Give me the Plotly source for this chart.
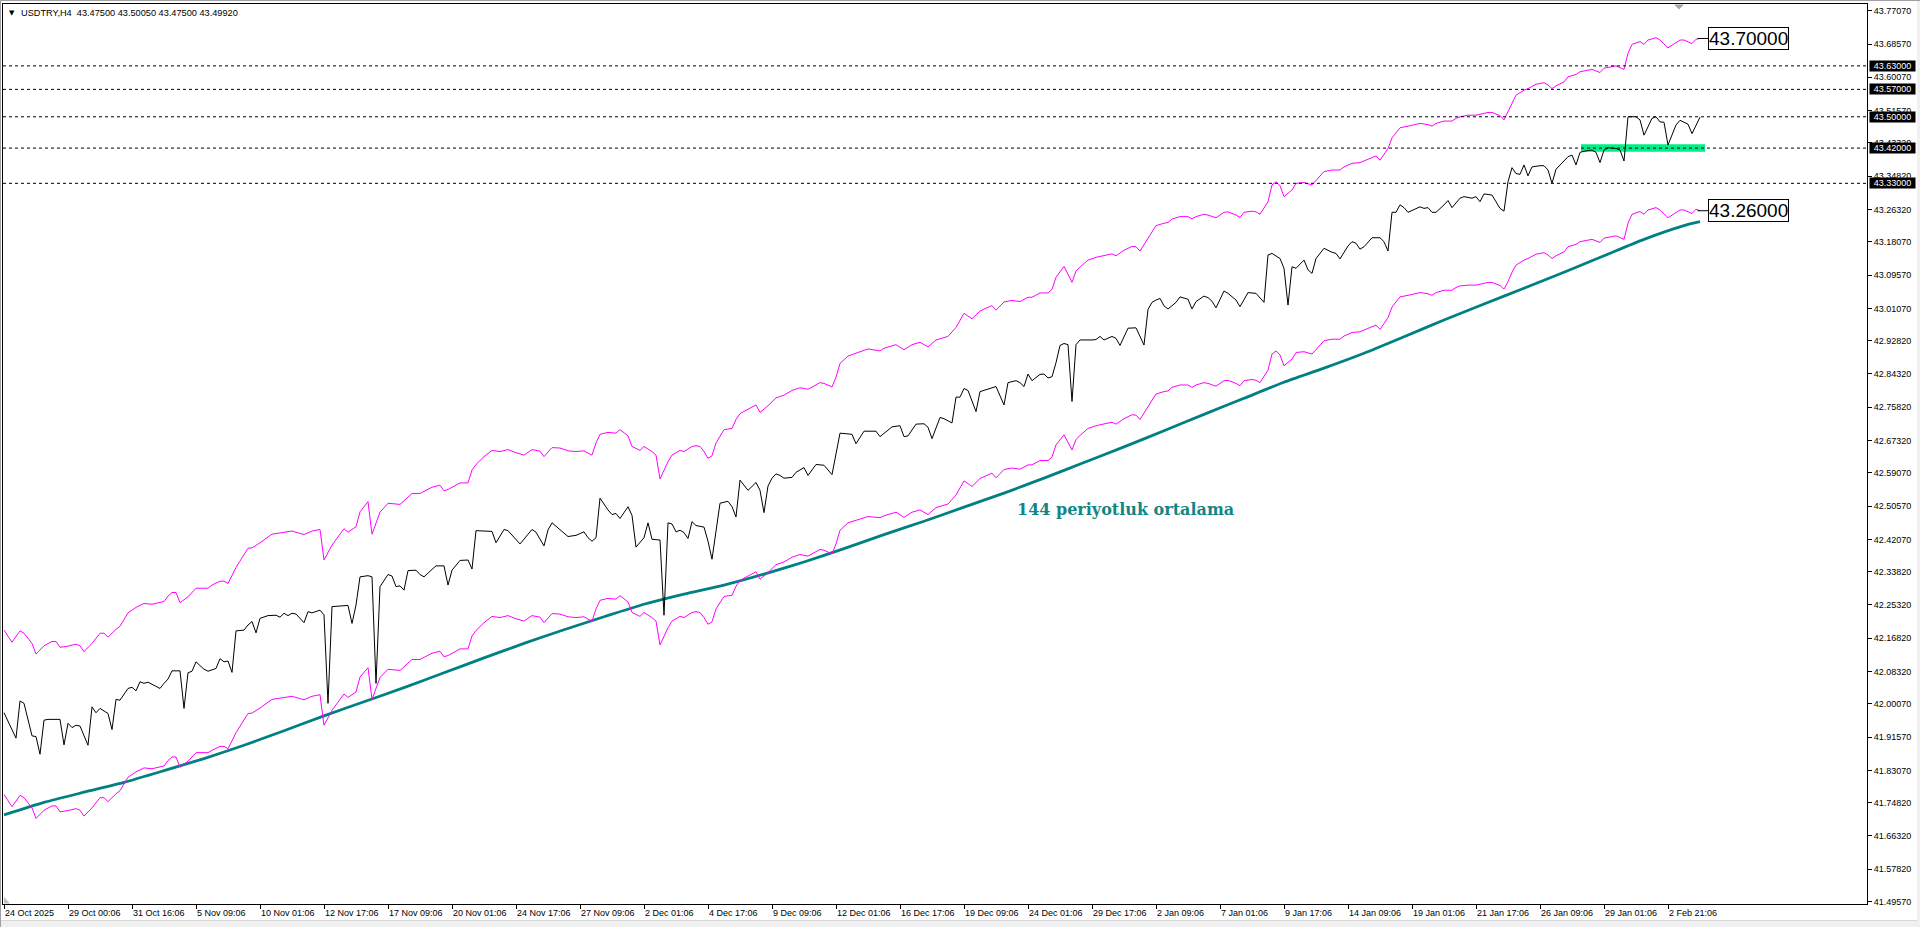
import plotly.graph_objects as go

# ---------------- data ----------------
close_bar = [
    0, 3, 4, 5, 7, 8, 9, 10, 11, 14,
    15, 16, 17, 18, 19, 20, 21, 22, 23, 24,
    26, 27, 28, 29, 31, 32, 33, 34, 35, 36,
    39, 40, 41, 42, 44, 45, 46, 47, 48, 50,
    51, 53, 54, 55, 56, 57, 58, 60, 61, 62,
    63, 64, 66, 68, 69, 70, 71, 72, 73, 75,
    76, 77, 79, 80, 81, 82, 84, 86, 87, 88,
    89, 91, 92, 93, 94, 96, 97, 98, 99, 100,
    101, 103, 104, 105, 107, 108, 110, 111, 112, 114,
    116, 117, 118, 122, 123, 125, 126, 129, 132, 133,
    135, 136, 137, 139, 140, 141, 143, 145, 146, 147,
    148, 149, 151, 152, 153, 154, 156, 157, 158, 160,
    161, 162, 164, 165, 166, 167, 168, 169, 170, 171,
    172, 173, 175, 176, 177, 179, 181, 182, 183, 184,
    186, 187, 188, 189, 190, 191, 192, 193, 194, 195,
    197, 198, 200, 201, 203, 205, 207, 209, 212, 213,
    215, 218, 219, 222, 224, 225, 226, 228, 230, 231,
    232, 234, 235, 237, 238, 239, 240, 241, 243, 244,
    246, 248, 250, 251, 253, 254, 255, 256, 257, 259,
    260, 261, 262, 263, 264, 265, 266, 267, 268, 269,
    272, 273, 274, 275, 277, 278, 279, 281, 283, 285,
    286, 287, 288, 289, 290, 291, 293, 294, 296, 297,
    298, 300, 301, 302, 303, 305, 306, 308, 309, 311,
    313, 315, 316, 317, 319, 320, 321, 322, 323, 325,
    326, 327, 328, 330, 332, 333, 334, 336, 337, 338,
    339, 340, 342, 344, 345, 346, 347, 348, 349, 350,
    351, 354, 355, 356, 357, 358, 360, 361, 362, 364,
    365, 367, 368, 369, 370, 372, 373, 374, 375, 376,
    377, 378, 379, 380, 381, 382, 384, 385, 386, 387,
    388, 389, 391, 392, 393, 394, 395, 397, 398, 399,
    400, 401, 403, 404, 405, 406, 408, 409, 410, 412,
    413, 414, 415, 416, 418, 419, 421, 422, 423, 424,
]
close_price = [
    41.978, 41.913, 42.008, 42.002, 41.919, 41.917, 41.872, 41.959, 41.961, 41.961,
    41.896, 41.951, 41.940, 41.946, 41.944, 41.921, 41.895, 41.993, 41.978, 41.989,
    41.976, 41.935, 42.012, 42.010, 42.040, 42.043, 42.034, 42.057, 42.053, 42.056,
    42.040, 42.053, 42.064, 42.085, 42.085, 41.989, 42.080, 42.084, 42.108, 42.089,
    42.084, 42.091, 42.116, 42.108, 42.110, 42.081, 42.187, 42.189, 42.202, 42.211,
    42.182, 42.219, 42.226, 42.227, 42.222, 42.232, 42.226, 42.232, 42.230, 42.208,
    42.236, 42.233, 42.240, 42.228, 42.002, 42.249, 42.250, 42.252, 42.206, 42.253,
    42.325, 42.328, 42.325, 42.053, 42.300, 42.331, 42.327, 42.300, 42.302, 42.291,
    42.341, 42.342, 42.331, 42.325, 42.344, 42.353, 42.353, 42.304, 42.342, 42.367,
    42.368, 42.345, 42.443, 42.441, 42.412, 42.446, 42.443, 42.409, 42.446, 42.439,
    42.404, 42.445, 42.463, 42.445, 42.437, 42.428, 42.431, 42.440, 42.425, 42.416,
    42.425, 42.526, 42.496, 42.484, 42.487, 42.474, 42.504, 42.482, 42.401, 42.425,
    42.463, 42.421, 42.419, 42.227, 42.463, 42.460, 42.440, 42.444, 42.438, 42.423,
    42.466, 42.456, 42.452, 42.416, 42.370, 42.513, 42.518, 42.504, 42.478, 42.572,
    42.546, 42.557, 42.566, 42.546, 42.489, 42.557, 42.577, 42.588, 42.584, 42.577,
    42.579, 42.592, 42.604, 42.584, 42.612, 42.610, 42.586, 42.692, 42.689, 42.665,
    42.697, 42.697, 42.683, 42.708, 42.711, 42.683, 42.685, 42.715, 42.716, 42.707,
    42.678, 42.732, 42.729, 42.718, 42.784, 42.784, 42.806, 42.801, 42.747, 42.798,
    42.804, 42.811, 42.764, 42.821, 42.826, 42.821, 42.811, 42.843, 42.826, 42.842,
    42.843, 42.833, 42.836, 42.872, 42.916, 42.921, 42.918, 42.773, 42.918, 42.930,
    42.930, 42.931, 42.939, 42.930, 42.939, 42.934, 42.916, 42.960, 42.961, 42.917,
    43.008, 43.026, 43.032, 43.036, 43.017, 43.009, 43.026, 43.040, 43.034, 43.009,
    43.028, 43.042, 43.038, 43.029, 43.012, 43.055, 43.049, 43.032, 43.015, 43.051,
    43.049, 43.026, 43.147, 43.151, 43.138, 43.113, 43.019, 43.117, 43.113, 43.134,
    43.109, 43.100, 43.138, 43.164, 43.154, 43.151, 43.137, 43.170, 43.181, 43.177,
    43.162, 43.168, 43.191, 43.191, 43.181, 43.157, 43.256, 43.256, 43.275, 43.268,
    43.256, 43.270, 43.266, 43.268, 43.256, 43.256, 43.275, 43.286, 43.268, 43.292,
    43.296, 43.292, 43.296, 43.283, 43.303, 43.300, 43.283, 43.266, 43.259, 43.334,
    43.370, 43.355, 43.353, 43.377, 43.349, 43.372, 43.375, 43.375, 43.364, 43.330,
    43.366, 43.377, 43.398, 43.402, 43.377, 43.409, 43.412, 43.415, 43.409, 43.383,
    43.415, 43.421, 43.419, 43.415, 43.387, 43.500, 43.500, 43.492, 43.453, 43.496,
    43.500, 43.487, 43.486, 43.428, 43.479, 43.491, 43.481, 43.457, 43.479, 43.499,
]

env_bar = [
    0, 2, 4, 5, 7, 8, 10, 12, 13, 14,
    16, 18, 19, 20, 22, 24, 25, 26, 28, 29,
    31, 33, 35, 37, 40, 41, 42, 43, 44, 46,
    48, 51, 52, 54, 55, 56, 58, 60, 61, 62,
    64, 67, 70, 72, 75, 77, 79, 80, 82, 84,
    85, 86, 88, 89, 91, 92, 94, 96, 99, 102,
    104, 107, 109, 110, 111, 114, 116, 117, 118, 120,
    122, 124, 126, 128, 130, 132, 134, 135, 137, 139,
    141, 143, 145, 146, 147, 148, 149, 151, 153, 154,
    156, 157, 159, 160, 162, 163, 164, 166, 167, 169,
    170, 172, 173, 174, 175, 176, 177, 178, 180, 182,
    183, 184, 186, 188, 189, 191, 193, 195, 197, 199,
    201, 202, 204, 205, 207, 208, 209, 211, 213, 216,
    219, 220, 223, 225, 227, 229, 231, 233, 235, 236,
    238, 240, 242, 244, 247, 248, 250, 252, 254, 256,
    257, 259, 261, 262, 263, 265, 267, 268, 269, 271,
    273, 275, 277, 278, 280, 282, 283, 284, 286, 288,
    290, 291, 292, 294, 296, 297, 298, 300, 301, 303,
    305, 306, 308, 309, 310, 312, 313, 314, 316, 317,
    318, 319, 320, 322, 323, 325, 327, 328, 330, 332,
    334, 335, 337, 339, 341, 343, 344, 346, 347, 349,
    351, 354, 356, 357, 358, 360, 362, 363, 364, 366,
    368, 370, 371, 372, 374, 375, 376, 377, 378, 380,
    381, 383, 385, 386, 387, 388, 390, 391, 393, 394,
    396, 397, 399, 400, 402, 403, 405, 406, 407, 409,
    410, 411, 413, 414, 416, 417, 419, 420, 422, 423,
    424,
]
env_upper = [
    42.189, 42.158, 42.187, 42.181, 42.155, 42.128, 42.149, 42.160, 42.160, 42.145,
    42.148, 42.153, 42.149, 42.134, 42.155, 42.181, 42.181, 42.171, 42.191, 42.199,
    42.233, 42.247, 42.257, 42.255, 42.262, 42.276, 42.285, 42.285, 42.259, 42.274,
    42.296, 42.296, 42.304, 42.314, 42.314, 42.308, 42.349, 42.380, 42.398, 42.399,
    42.412, 42.434, 42.438, 42.442, 42.433, 42.442, 42.446, 42.368, 42.406, 42.436,
    42.448, 42.439, 42.453, 42.491, 42.517, 42.434, 42.490, 42.513, 42.510, 42.538,
    42.538, 42.554, 42.559, 42.545, 42.548, 42.565, 42.565, 42.598, 42.612, 42.632,
    42.648, 42.645, 42.650, 42.642, 42.636, 42.650, 42.646, 42.632, 42.655, 42.654,
    42.647, 42.645, 42.647, 42.641, 42.636, 42.667, 42.689, 42.694, 42.692, 42.701,
    42.685, 42.658, 42.648, 42.658, 42.645, 42.636, 42.575, 42.619, 42.636, 42.648,
    42.645, 42.658, 42.660, 42.658, 42.645, 42.628, 42.634, 42.667, 42.701, 42.704,
    42.727, 42.742, 42.754, 42.764, 42.745, 42.762, 42.782, 42.789, 42.801, 42.808,
    42.804, 42.810, 42.821, 42.819, 42.810, 42.835, 42.870, 42.889, 42.896, 42.907,
    42.902, 42.909, 42.918, 42.905, 42.918, 42.924, 42.912, 42.930, 42.936, 42.939,
    42.962, 42.998, 42.984, 43.004, 43.018, 43.006, 43.027, 43.031, 43.028, 43.039,
    43.039, 43.050, 43.050, 43.059, 43.090, 43.118, 43.077, 43.106, 43.116, 43.134,
    43.141, 43.145, 43.150, 43.145, 43.159, 43.169, 43.168, 43.157, 43.189, 43.222,
    43.228, 43.230, 43.239, 43.245, 43.245, 43.239, 43.245, 43.251, 43.249, 43.242,
    43.256, 43.257, 43.249, 43.243, 43.256, 43.259, 43.257, 43.251, 43.283, 43.326,
    43.334, 43.324, 43.296, 43.313, 43.330, 43.332, 43.326, 43.338, 43.360, 43.364,
    43.364, 43.372, 43.381, 43.383, 43.392, 43.400, 43.389, 43.419, 43.446, 43.472,
    43.476, 43.483, 43.480, 43.476, 43.483, 43.489, 43.489, 43.496, 43.500, 43.504,
    43.504, 43.508, 43.511, 43.511, 43.503, 43.492, 43.513, 43.537, 43.555, 43.568,
    43.572, 43.583, 43.587, 43.581, 43.572, 43.579, 43.589, 43.602, 43.608, 43.615,
    43.619, 43.621, 43.613, 43.624, 43.628, 43.630, 43.621, 43.662, 43.685, 43.692,
    43.685, 43.696, 43.702, 43.696, 43.676, 43.683, 43.696, 43.696, 43.687, 43.698,
    43.700,
]
env_lower = [
    41.769, 41.738, 41.767, 41.761, 41.735, 41.708, 41.729, 41.740, 41.740, 41.725,
    41.728, 41.733, 41.729, 41.714, 41.735, 41.761, 41.761, 41.751, 41.771, 41.779,
    41.813, 41.827, 41.837, 41.835, 41.842, 41.856, 41.865, 41.865, 41.839, 41.854,
    41.876, 41.876, 41.882, 41.892, 41.892, 41.886, 41.927, 41.958, 41.976, 41.977,
    41.990, 42.012, 42.016, 42.020, 42.011, 42.020, 42.024, 41.946, 41.984, 42.014,
    42.026, 42.017, 42.031, 42.069, 42.093, 42.012, 42.068, 42.089, 42.086, 42.114,
    42.114, 42.130, 42.135, 42.121, 42.124, 42.141, 42.141, 42.174, 42.188, 42.208,
    42.224, 42.221, 42.226, 42.218, 42.212, 42.226, 42.222, 42.208, 42.231, 42.230,
    42.223, 42.221, 42.223, 42.217, 42.212, 42.243, 42.265, 42.270, 42.268, 42.277,
    42.261, 42.234, 42.224, 42.234, 42.221, 42.212, 42.151, 42.195, 42.212, 42.224,
    42.221, 42.234, 42.236, 42.234, 42.221, 42.204, 42.210, 42.243, 42.275, 42.278,
    42.301, 42.316, 42.328, 42.338, 42.319, 42.336, 42.356, 42.363, 42.375, 42.382,
    42.378, 42.384, 42.395, 42.393, 42.384, 42.409, 42.444, 42.463, 42.470, 42.479,
    42.476, 42.481, 42.490, 42.477, 42.490, 42.496, 42.484, 42.502, 42.508, 42.511,
    42.534, 42.570, 42.556, 42.576, 42.590, 42.578, 42.599, 42.603, 42.600, 42.611,
    42.611, 42.622, 42.622, 42.631, 42.662, 42.688, 42.649, 42.676, 42.686, 42.704,
    42.711, 42.715, 42.720, 42.715, 42.729, 42.739, 42.738, 42.727, 42.759, 42.792,
    42.798, 42.800, 42.809, 42.815, 42.815, 42.809, 42.815, 42.821, 42.819, 42.812,
    42.826, 42.827, 42.819, 42.813, 42.826, 42.829, 42.827, 42.821, 42.853, 42.894,
    42.902, 42.892, 42.864, 42.881, 42.898, 42.900, 42.894, 42.906, 42.928, 42.932,
    42.932, 42.940, 42.949, 42.951, 42.960, 42.968, 42.957, 42.987, 43.014, 43.040,
    43.044, 43.051, 43.048, 43.044, 43.051, 43.057, 43.057, 43.064, 43.068, 43.070,
    43.070, 43.074, 43.077, 43.077, 43.069, 43.060, 43.079, 43.103, 43.121, 43.134,
    43.138, 43.149, 43.153, 43.147, 43.138, 43.145, 43.155, 43.168, 43.174, 43.181,
    43.185, 43.187, 43.179, 43.190, 43.194, 43.196, 43.187, 43.228, 43.251, 43.258,
    43.251, 43.262, 43.268, 43.262, 43.242, 43.249, 43.262, 43.262, 43.253, 43.264,
    43.260,
]

ma_bar = [
    0, 10, 20, 30, 40, 50, 60, 70, 80, 90,
    100, 110, 120, 130, 140, 150, 160, 170, 180, 190,
    200, 210, 220, 230, 240, 250, 260, 270, 280, 290,
    300, 310, 320, 330, 340, 350, 360, 370, 380, 390,
    400, 410, 420, 424,
]
ma_price = [
    41.717, 41.749, 41.775, 41.800, 41.830, 41.861, 41.895, 41.932, 41.970, 42.006,
    42.042, 42.080, 42.118, 42.155, 42.190, 42.223, 42.255, 42.281, 42.304, 42.332,
    42.363, 42.397, 42.433, 42.467, 42.503, 42.539, 42.577, 42.617, 42.657, 42.698,
    42.740, 42.781, 42.822, 42.858, 42.896, 42.938, 42.981, 43.022, 43.062, 43.103,
    43.145, 43.187, 43.222, 43.232,
]

x_tick_bars = [0, 16, 32, 48, 64, 80, 96, 112, 128, 144, 160, 176, 192, 208,
               224, 240, 256, 272, 288, 304, 320, 336, 352, 368, 384, 400, 416]
x_tick_labels = ["24 Oct 2025", "29 Oct 00:06", "31 Oct 16:06", "5 Nov 09:06",
                 "10 Nov 01:06", "12 Nov 17:06", "17 Nov 09:06", "20 Nov 01:06",
                 "24 Nov 17:06", "27 Nov 09:06", "2 Dec 01:06", "4 Dec 17:06",
                 "9 Dec 09:06", "12 Dec 01:06", "16 Dec 17:06", "19 Dec 09:06",
                 "24 Dec 01:06", "29 Dec 17:06", "2 Jan 09:06", "7 Jan 01:06",
                 "9 Jan 17:06", "14 Jan 09:06", "19 Jan 01:06", "21 Jan 17:06",
                 "26 Jan 09:06", "29 Jan 01:06", "2 Feb 21:06"]
y_tick_values = [43.77070, 43.68570, 43.60070, 43.51570, 43.43320, 43.34820,
                 43.26320, 43.18070, 43.09570, 43.01070, 42.92820, 42.84320,
                 42.75820, 42.67320, 42.59070, 42.50570, 42.42070, 42.33820,
                 42.25320, 42.16820, 42.08320, 42.00070, 41.91570, 41.83070,
                 41.74820, 41.66320, 41.57820, 41.49570]
level_prices = [43.63, 43.57, 43.50, 43.42, 43.33]
zone_bars = [394.25, 425.25]
zone_prices = [43.4106, 43.4300]
symbol_name = "USDTRY,H4"
last_ohlc = [43.47500, 43.50050, 43.47500, 43.49920]
ma_label = "144 periyotluk ortalama"

# ---------------- geometry / style ----------------
W, H = 1920, 927
ML, MR, MT, MB = 3, 53, 4, 23
PW, PH = W - ML - MR, H - MT - MB
X_RANGE = [-0.25, 465.75]
Y_RANGE = [41.4895, 43.788]
MA_LABEL_POS = (280.25, 42.496)


def px(xp):
    return (xp - ML) / PW


def py(yp):
    return (H - MB - yp) / PH


assert len(close_bar) == len(close_price)
assert len(env_bar) == len(env_upper) == len(env_lower)
assert len(ma_bar) == len(ma_price)

fig = go.Figure()
fig.add_trace(go.Scatter(x=ma_bar, y=ma_price, mode="lines", line_shape="spline",
                         line=dict(color="#008080", width=2.8, smoothing=0.6),
                         hoverinfo="skip"))
fig.add_trace(go.Scatter(x=env_bar, y=env_upper, mode="lines",
                         line=dict(color="#ff00ff", width=1), hoverinfo="skip"))
fig.add_trace(go.Scatter(x=env_bar, y=env_lower, mode="lines",
                         line=dict(color="#ff00ff", width=1), hoverinfo="skip"))
fig.add_trace(go.Scatter(x=close_bar, y=close_price, mode="lines",
                         line=dict(color="#000000", width=1), hoverinfo="skip"))

shapes = []
# green zone
shapes.append(dict(type="rect", xref="x", yref="y", x0=zone_bars[0], x1=zone_bars[1],
                   y0=zone_prices[0], y1=zone_prices[1], fillcolor="#00ee88",
                   line=dict(width=0), layer="below"))
# horizontal level lines
for lv in level_prices:
    shapes.append(dict(type="line", xref="paper", yref="y", x0=0, x1=1, y0=lv, y1=lv,
                       line=dict(color="black", width=1, dash="3px,3px"), layer="above"))
# connectors to the big labels
for val in (env_upper[-1], env_lower[-1]):
    shapes.append(dict(type="line", xref="x", yref="y", x0=env_bar[-1] - 0.6,
                       x1=env_bar[-1] + 2, y0=val, y1=val,
                       line=dict(color="black", width=1)))
# window chrome
shapes.append(dict(type="rect", xref="paper", yref="paper", x0=px(0), x1=px(W),
                   y0=py(H), y1=py(920.5), fillcolor="#f0f0f0", line=dict(width=0)))
shapes.append(dict(type="line", xref="paper", yref="paper", x0=px(0), x1=px(W),
                   y0=py(920.5), y1=py(920.5), line=dict(color="#d8d8d8", width=1)))
shapes.append(dict(type="rect", xref="paper", yref="paper", x0=px(1917), x1=px(W),
                   y0=py(H), y1=py(0), fillcolor="#f0f0f0", line=dict(width=0)))
shapes.append(dict(type="line", xref="paper", yref="paper", x0=px(0.5), x1=px(0.5),
                   y0=py(H), y1=py(0), line=dict(color="#a0a0a0", width=1)))
shapes.append(dict(type="line", xref="paper", yref="paper", x0=px(0), x1=px(W),
                   y0=py(0.5), y1=py(0.5), line=dict(color="#a0a0a0", width=1)))
# small grey markers
shapes.append(dict(type="path", xref="paper", yref="paper",
                   path=f"M {px(1674)} {py(4.5)} L {px(1684)} {py(4.5)} L {px(1679)} {py(9.5)} Z",
                   fillcolor="#a8a8a8", line=dict(width=0)))
shapes.append(dict(type="path", xref="paper", yref="paper",
                   path=f"M {px(4)} {py(897)} L {px(4)} {py(903.5)} L {px(10)} {py(903.5)} Z",
                   fillcolor="#c0c0c0", line=dict(width=0)))

annotations = []
annotations.append(dict(xref="paper", yref="paper", x=px(7), y=py(12.5), xanchor="left",
                        yanchor="middle", showarrow=False, text="▼",
                        font=dict(size=7, color="black", family="DejaVu Sans")))
annotations.append(dict(xref="paper", yref="paper", x=px(19), y=py(12.5), xanchor="left",
                        yanchor="middle", showarrow=False,
                        text=symbol_name + "  " + " ".join(f"{v:.5f}" for v in last_ohlc),
                        font=dict(size=9.2, color="black", family="Liberation Sans, Arial")))
for lv in level_prices:
    annotations.append(dict(xref="paper", yref="y", x=1, y=lv, xanchor="left",
                            yanchor="middle", xshift=2, showarrow=False,
                            text=f"{lv:.5f}", bgcolor="black", borderpad=0,
                            width=45, height=10, align="center",
                            font=dict(size=9, color="white", family="Liberation Sans, Arial")))
for val in (env_upper[-1], env_lower[-1]):
    annotations.append(dict(xref="x", yref="y", x=env_bar[-1] + 2, y=val, xanchor="left",
                            yanchor="middle", showarrow=False, text=f"{val:.5f}",
                            bgcolor="white", bordercolor="black", borderwidth=1,
                            borderpad=0,
                            font=dict(size=19, color="black", family="Liberation Sans, Arial")))
annotations.append(dict(xref="x", yref="y", x=MA_LABEL_POS[0], y=MA_LABEL_POS[1],
                        xanchor="center", yanchor="middle", showarrow=False,
                        text=f"<b>{ma_label}</b>",
                        font=dict(size=16, color="#148585", family="DejaVu Serif")))

fig.update_layout(
    width=W, height=H,
    margin=dict(l=ML, r=MR, t=MT, b=MB, pad=0, autoexpand=False),
    paper_bgcolor="white", plot_bgcolor="white", showlegend=False,
    font=dict(family="Liberation Sans, Arial, sans-serif", size=9, color="black"),
    shapes=shapes, annotations=annotations, hovermode=False,
)
fig.update_xaxes(range=X_RANGE, showgrid=False, zeroline=False, showline=True,
                 mirror=True, linecolor="black", linewidth=1,
                 tickmode="array", tickvals=x_tick_bars, ticktext=x_tick_labels,
                 ticks="outside", ticklen=4, tickcolor="black", tickwidth=1,
                 ticklabelposition="outside right",
                 tickfont=dict(size=9, color="black", family="Liberation Sans, Arial"))
fig.update_yaxes(range=Y_RANGE, side="right", showgrid=False, zeroline=False,
                 showline=True, mirror=True, linecolor="black", linewidth=1,
                 tickmode="array", tickvals=y_tick_values,
                 ticktext=[f"{v:.5f}" for v in y_tick_values],
                 ticks="outside", ticklen=4, tickcolor="black", tickwidth=1,
                 tickfont=dict(size=9, color="black", family="Liberation Sans, Arial"))

fig.write_html("out.html", config={"displayModeBar": False},
               post_script="document.body.style.margin='0';document.body.style.overflow='hidden';")
